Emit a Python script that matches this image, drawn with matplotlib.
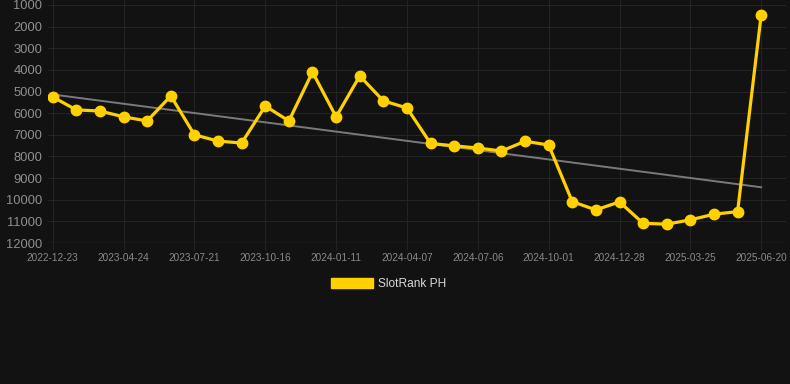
import numpy as np
import matplotlib
matplotlib.use("Agg")
import matplotlib.pyplot as plt
from matplotlib.patches import Patch

# monthly snapshots, only every third label is shown on the axis
dates = [
    "2022-12-23", "2023-01-31", "2023-03-10", "2023-04-24", "2023-05-23", "2023-06-21",
    "2023-07-21", "2023-08-19", "2023-09-17", "2023-10-16", "2023-11-14", "2023-12-13",
    "2024-01-11", "2024-02-09", "2024-03-09", "2024-04-07", "2024-05-07", "2024-06-06",
    "2024-07-06", "2024-08-04", "2024-09-02", "2024-10-01", "2024-10-30", "2024-11-29",
    "2024-12-28", "2025-01-26", "2025-02-24", "2025-03-25", "2025-04-23", "2025-05-22",
    "2025-06-20",
]
rank = [
    5250, 5850, 5900, 6170, 6360, 5200, 7000, 7290, 7380, 5670,
    6360, 4100, 6170, 4280, 5430, 5760, 7400, 7510, 7610, 7750,
    7300, 7470, 10090, 10470, 10100, 11090, 11130, 10930, 10670, 10550,
    1450,
]
yticks = [1000, 2000, 3000, 4000, 5000, 6000, 7000, 8000, 9000, 10000, 11000, 12000]

bg = "#121212"
grid = "#242424"
yellow = "#FFD100"

plt.rcParams["font.family"] = ["Liberation Sans", "DejaVu Sans"]

fig = plt.figure(figsize=(7.9, 3.84), dpi=100, facecolor=bg)
ax = fig.add_axes([48 / 790, 1 - 243 / 384, (786 - 48) / 790, 243 / 384])
ax.set_facecolor(bg)

x = np.arange(len(rank))
ax.plot(x, rank, color=yellow, lw=2.3, marker="o", ms=7.5, zorder=3)

# linear trend
k, b = np.polyfit(x, rank, 1)
ax.plot(x, k * x + b, color="#7a7a7a", lw=1.4, zorder=2)

ax.set_ylim(12000, 770)
ax.set_xlim(-0.2, 31.05)
ax.set_yticks(yticks)
ax.set_xticks(x[::3])
ax.set_xticklabels(dates[::3])
ax.grid(True, color=grid, lw=0.8)
for s in ax.spines.values():
    s.set_visible(False)
ax.axhline(12000, color="#2e2e2e", lw=1)
ax.tick_params(axis="y", length=0, colors="#8f8f8f", labelsize=9.3, pad=4)
ax.tick_params(axis="x", length=5, color=grid, colors="#8a8a8a", labelsize=7.2, pad=2)

fig.legend(handles=[Patch(facecolor=yellow, edgecolor=yellow)], labels=["SlotRank PH"],
           loc="center", bbox_to_anchor=(389 / 790, 1 - 284 / 384), frameon=False,
           handlelength=3.5, handleheight=0.9, handletextpad=0.45,
           labelcolor="#d8d8d8", fontsize=8.6)

fig.savefig("out.png", dpi=100, facecolor=bg)
